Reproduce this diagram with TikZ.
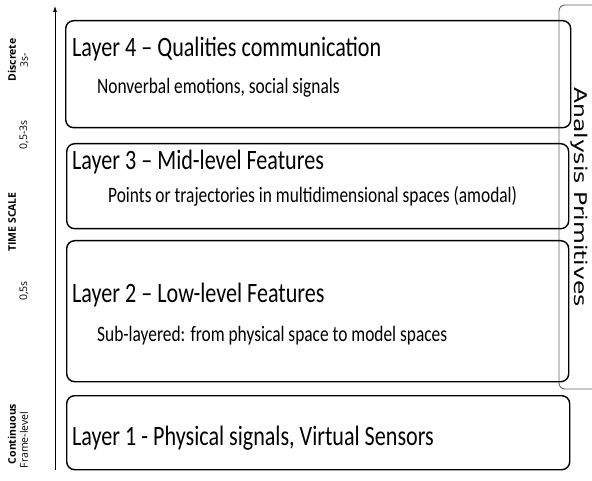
\documentclass[tikz,border=0pt]{standalone}
\usepackage{fontspec}
\setmainfont{Carlito}
\newfontfamily\scalefont{Open Sans}
\newfontfamily\primfont{DejaVu Sans}
\usetikzlibrary{positioning,arrows.meta}

\newcommand{\narrow}[1]{\scalebox{0.79}[1]{#1}}
\newcommand{\widen}[1]{\scalebox{1.34}[1]{#1}}

\tikzset{
  layerbox/.style={draw, line width=1.4pt, rounded corners=8pt, anchor=north west, inner sep=0pt},
  title/.style={anchor=west, inner sep=0pt, font=\fontsize{28}{30}\selectfont},
  sub/.style={anchor=west, inner sep=0pt, font=\fontsize{22}{24}\selectfont},
  scalebold/.style={rotate=90, inner sep=0pt, font=\scalefont\bfseries\fontsize{10.5}{11}\selectfont},
  scalelbl/.style={rotate=90, inner sep=0pt, font=\scalefont\fontsize{10.5}{11}\selectfont}
}

\begin{document}
\begin{tikzpicture}[x=1pt,y=-1pt]
\useasboundingbox (0,0) rectangle (592,481);
\clip (0,0) rectangle (592,481);
% analysis primitives bracket
\draw[gray!80!black, line width=0.9pt, rounded corners=6pt] (600,5) -- (559,5) -- (559,389) -- (600,389);
\node[rotate=-90, inner sep=0pt, font=\primfont\fontsize{17.5}{19}\selectfont] (prim) at (579,197) {\widen{Analysis Primitives}};
% layers
\node[layerbox, minimum width=505pt, minimum height=107pt] (l4) at (65,20) {};
\node[layerbox, minimum width=502pt, minimum height=85pt] (l3) at (66,143) {};
\node[layerbox, minimum width=502pt, minimum height=141pt] (l2) at (66,240) {};
\node[layerbox, minimum width=503pt, minimum height=74pt] (l1) at (66,395) {};
\node[title] (t4) at (72,49) {\narrow{Layer 4 -- Qualities communication}};
\node[sub] (s4) at (97,88) {\narrow{Nonverbal emotions, social signals}};
\node[title] (t3) at (72,162) {\narrow{Layer 3 -- Mid-level Features}};
\node[sub] (s3) at (108,196) {\narrow{Points or trajectories in multidimensional spaces (amodal)}};
\node[title] (t2) at (72,295) {\narrow{Layer 2 -- Low-level Features}};
\node[sub] (s2) at (97,336) {\narrow{Sub-layered: from physical space to model spaces}};
\node[title] (t1) at (72,438) {\narrow{Layer 1 - Physical signals, Virtual Sensors}};
% time axis
\coordinate (tbot) at (55,470);
\coordinate (ttop) at (55,6);
\draw[line width=0.7pt, -{Latex[length=6pt,width=4pt]}] (tbot) -- (ttop);
\node[scalebold] (disc) at (12,60) {Discrete};
\node[scalelbl] (d3) at (24,60) {3s-};
\node[scalebold] (ts) at (12,222) {TIME SCALE};
\node[scalelbl] (mid) at (24,135) {0,5-3s};
\node[scalelbl] (half) at (24,291) {0,5s};
\node[scalebold] (cont) at (12,434) {Continuous};
\node[scalelbl] (frame) at (24,440) {Frame-level};
\end{tikzpicture}
\end{document}
